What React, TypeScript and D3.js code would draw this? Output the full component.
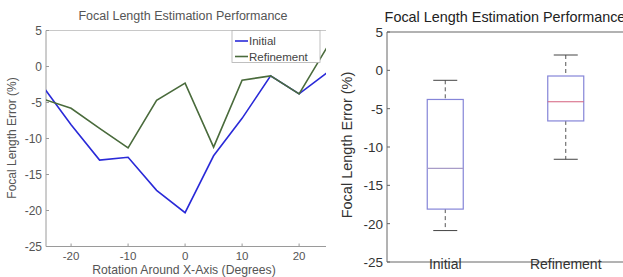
import * as d3 from 'd3';

// rotation angle (degrees) and focal length error (%)
const angles = [-25, -20, -15, -10, -5, 0, 5, 10, 15, 20, 25];
const initialErr = [-2.7, -8.1, -13.0, -12.6, -17.2, -20.3, -12.4, -7.2, -1.3, -3.8, -0.8];
const refinedErr = [-4.5, -5.8, -8.6, -11.3, -4.7, -2.3, -11.2, -1.9, -1.3, -3.8, 2.8];

const xTicks = [-20, -10, 0, 10, 20];
const yTicks = [5, 0, -5, -10, -15, -20, -25];

// box plot stats
const boxNames = ['Initial', 'Refinement'];
const whiskerLo = [-20.9, -11.6];
const q1 = [-18.1, -6.6];
const medians = [-12.8, -4.1];
const q3 = [-3.8, -0.74];
const whiskerHi = [-1.3, 2.0];

const W = 623;
const H = 277;
const font = '"Liberation Sans", Arial, sans-serif';

function LinePanel() {
    const x = d3.scaleLinear().domain([-24.4, 25]).range([46, 327.6]);
    const y = d3.scaleLinear().domain([-25, 5]).range([246.5, 30.5]);
    const line = d3.line<number>()
        .x((_, i) => x(angles[i]))
        .y(d => y(d));
    const [x0, x1] = [46, 326];
    const [yTop, yBot] = [30.5, 246.5];
    const axisCol = '#9a9a9a';
    const textCol = '#555';

    return (
        <g fontFamily={font}>
            <defs>
                <clipPath id="clipL">
                    <rect x={x0} y={yTop - 2} width={x1 - x0} height={yBot - yTop + 4} />
                </clipPath>
            </defs>
            <text x={183} y={20} textAnchor="middle" fontSize={12.5} fill={textCol}>
                Focal Length Estimation Performance
            </text>
            {/* frame */}
            <line x1={x0} x2={x1} y1={yTop} y2={yTop} stroke="#c8c8c8" />
            <line x1={x0} x2={x1} y1={yBot} y2={yBot} stroke={axisCol} />
            <line x1={x0} x2={x0} y1={yTop} y2={yBot} stroke={axisCol} />
            {yTicks.map(t => (
                <g key={t}>
                    <line x1={x0} x2={x0 + 3} y1={y(t)} y2={y(t)} stroke={axisCol} />
                    <text x={42} y={y(t) + 4} textAnchor="end" fontSize={12} fill={textCol}>{t}</text>
                </g>
            ))}
            {xTicks.map(t => (
                <g key={t}>
                    <line x1={x(t)} x2={x(t)} y1={yBot} y2={yBot - 3} stroke={axisCol} />
                    <text x={x(t)} y={259.5} textAnchor="middle" fontSize={11.5} fill={textCol}>{t}</text>
                </g>
            ))}
            <text x={184} y={273.5} textAnchor="middle" fontSize={12.2} fill={textCol}>
                Rotation Around X-Axis (Degrees)
            </text>
            <text transform="translate(16,138) rotate(-90)" textAnchor="middle" fontSize={12} fill={textCol}>
                Focal Length Error (%)
            </text>
            <g clipPath="url(#clipL)">
                <path d={line(initialErr) ?? ''} fill="none" stroke="#2a2ad8" strokeWidth={1.6} />
                <path d={line(refinedErr) ?? ''} fill="none" stroke="#4a6b3c" strokeWidth={1.6} />
            </g>
            {/* legend */}
            <rect x={232} y={30.5} width={88} height={32} fill="#fff" stroke="#b0b0b0" strokeWidth={0.8} />
            <line x1={235} x2={248} y1={41} y2={41} stroke="#2a2ad8" strokeWidth={1.6} />
            <text x={249} y={45} fontSize={11.5} fill="#444">Initial</text>
            <line x1={235} x2={248} y1={56.5} y2={56.5} stroke="#4a6b3c" strokeWidth={1.6} />
            <text x={249} y={60.5} fontSize={11.5} fill="#444">Refinement</text>
        </g>
    );
}

function BoxPanel() {
    const x = d3.scaleLinear().domain([0.5, 2.5]).range([385, 626]);
    const y = d3.scaleLinear().domain([-25, 5]).range([262, 32]);
    const [x0, yTop, yBot] = [387, 32, 262];
    const boxHalf = 18;
    const capHalf = 12;
    const medianCols = ['#a89cc8', '#d4607e'];
    const textCol = '#333';

    return (
        <g fontFamily={font}>
            <text x={505} y={22} textAnchor="middle" fontSize={14.4} fill="#222">
                Focal Length Estimation Performance
            </text>
            <line x1={x0} x2={W} y1={yTop} y2={yTop} stroke="#999" strokeWidth={1.5} />
            <line x1={x0} x2={W} y1={yBot} y2={yBot} stroke="#666" />
            <line x1={x0} x2={x0} y1={yTop} y2={yBot} stroke="#666" />
            {yTicks.map(t => (
                <g key={t}>
                    <line x1={x0} x2={x0 + 3} y1={y(t)} y2={y(t)} stroke="#666" />
                    <text x={383} y={y(t) + 5} textAnchor="end" fontSize={13.5} fill={textCol}>{t}</text>
                </g>
            ))}
            <text transform="translate(352,145) rotate(-90)" textAnchor="middle" fontSize={14.5} fill={textCol}>
                Focal Length Error (%)
            </text>
            {boxNames.map((name, i) => {
                const cx = x(i + 1);
                return (
                    <g key={name}>
                        <line x1={cx} x2={cx} y1={y(whiskerHi[i])} y2={y(q3[i])} stroke="#555" strokeDasharray="4 3" />
                        <line x1={cx} x2={cx} y1={y(q1[i])} y2={y(whiskerLo[i])} stroke="#555" strokeDasharray="4 3" />
                        <line x1={cx - capHalf} x2={cx + capHalf} y1={y(whiskerHi[i])} y2={y(whiskerHi[i])} stroke="#444" />
                        <line x1={cx - capHalf} x2={cx + capHalf} y1={y(whiskerLo[i])} y2={y(whiskerLo[i])} stroke="#444" />
                        <rect x={cx - boxHalf} y={y(q3[i])} width={boxHalf * 2} height={y(q1[i]) - y(q3[i])}
                              fill="none" stroke="#8585d8" strokeWidth={1.2} />
                        <line x1={cx - boxHalf} x2={cx + boxHalf} y1={y(medians[i])} y2={y(medians[i])}
                              stroke={medianCols[i]} strokeWidth={1.2} />
                        <text x={cx} y={268.5} textAnchor="middle" fontSize={14} fill={textCol}>{name}</text>
                    </g>
                );
            })}
        </g>
    );
}

export default function App() {
    return (
        <svg width={W} height={H} style={{ position: 'absolute', left: 0, top: 0, background: '#fff' }}>
            <rect width={W} height={H} fill="#fff" />
            <LinePanel />
            <BoxPanel />
        </svg>
    );
}
